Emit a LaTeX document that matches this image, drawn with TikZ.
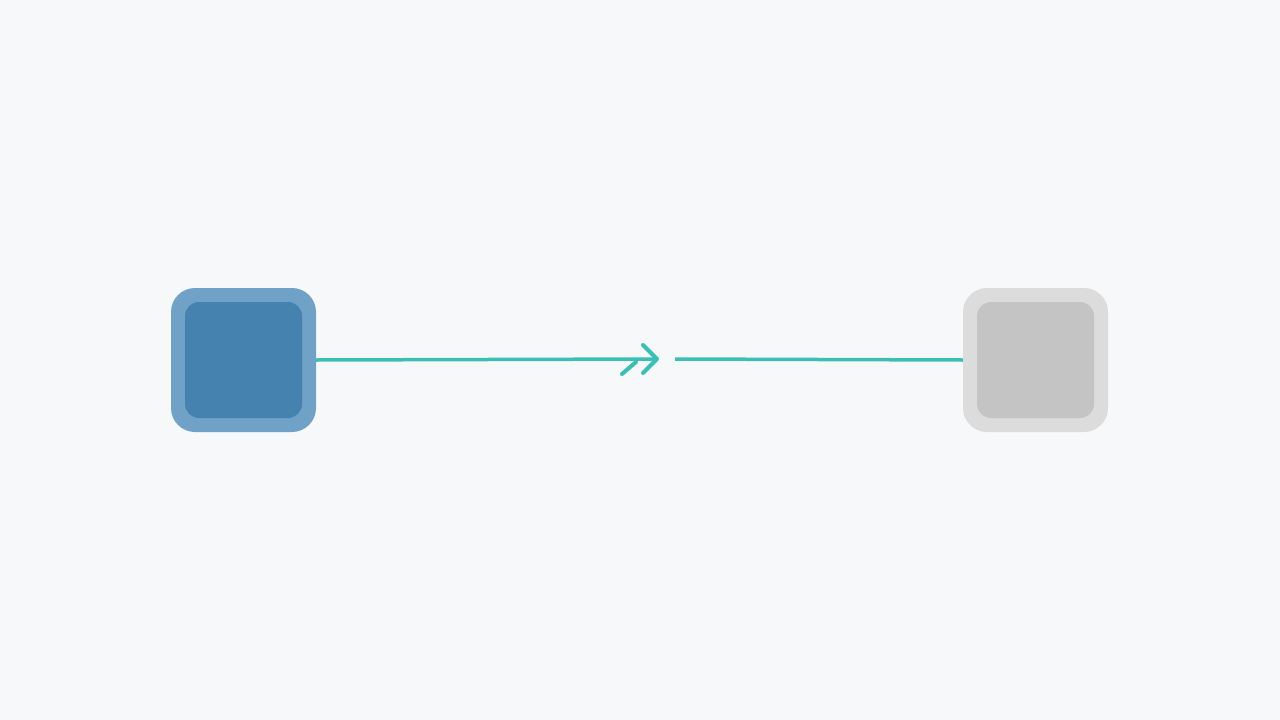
\documentclass[tikz,border=0pt]{standalone}
\usetikzlibrary{positioning}
\definecolor{bg}{HTML}{F7F8F9}
\definecolor{blueout}{HTML}{70A1C7}
\definecolor{bluein}{HTML}{4682B0}
\definecolor{greyout}{HTML}{DCDCDC}
\definecolor{greyin}{HTML}{C4C4C4}
\definecolor{teal}{HTML}{3BBFB5}
\tikzset{
  outerbox/.style={minimum width=145pt, minimum height=144pt, rounded corners=24pt, inner sep=0pt},
  innerbox/.style={minimum width=117pt, minimum height=116pt, rounded corners=14pt, inner sep=0pt},
  conn/.style={draw=teal, line width=3.5pt},
  tipline/.style={draw=teal, line width=4pt, line cap=round, line join=round}
}
\begin{document}
\begin{tikzpicture}[x=1pt,y=-1pt]
\fill[bg] (0,0) rectangle (1280,720);
\useasboundingbox (0,0) rectangle (1280,720);
\node[outerbox, fill=blueout] (src) at (243.5,360) {};
\node[innerbox, fill=bluein] (srcin) at (src.center) {};
\node[outerbox, fill=greyout] (dst) at (1035.5,360) {};
\node[innerbox, fill=greyin] (dstin) at (dst.center) {};
\coordinate (tip) at (657,359);
\coordinate (gapend) at (675,359);
\coordinate (ua) at (643,345);
\coordinate (la) at (643,373);
\coordinate (b1) at (622,374);
\coordinate (b2) at (636,362);
\draw[conn] (src.east) -- (tip);
\draw[tipline] (ua) -- (tip) -- (la);
\draw[tipline] (b1) -- (b2);
\draw[conn] (gapend) -- (dst.west);
\end{tikzpicture}
\end{document}
